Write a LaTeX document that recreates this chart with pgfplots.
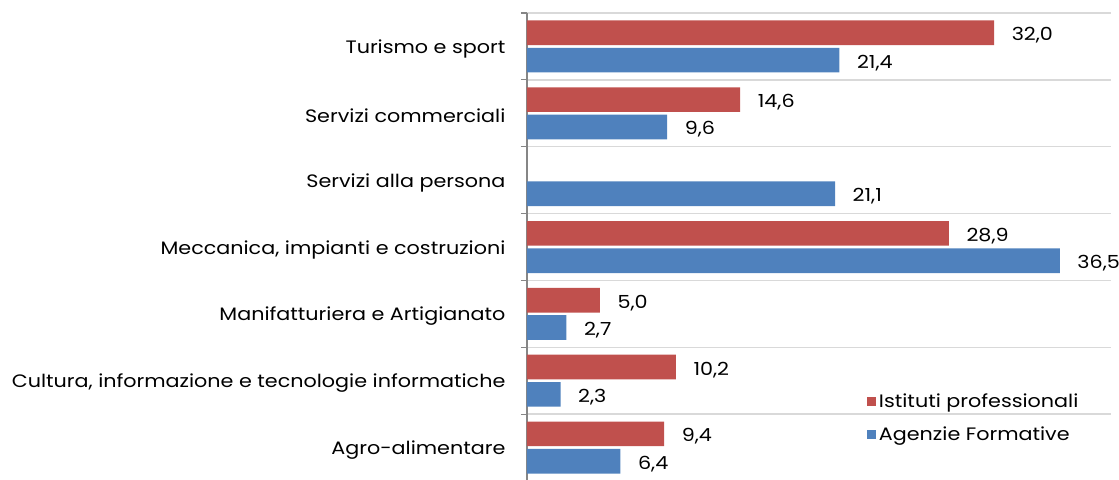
\documentclass[border=0pt]{standalone}
\usepackage{fontspec}
\setmainfont{Poppins}[FakeStretch=1.15]
\usepackage{pgfplots}
\pgfplotsset{compat=1.18}
\definecolor{ipred}{HTML}{C0504D}
\definecolor{afblue}{HTML}{4F81BD}
\definecolor{gridgray}{HTML}{D9D9D9}
\definecolor{axgray}{HTML}{868686}
\newcommand{\chartfont}{\fontsize{13.5}{16}\selectfont}
\begin{document}
\begin{tikzpicture}
\begin{axis}[
    at={(0,0)}, anchor=south west,
    scale only axis,
    width=438pt, height=351pt,
    xbar, bar width=18.5pt,
    xmin=0, xmax=40,
    ymin=-0.5, ymax=6.5, y dir=reverse,
    hide x axis,
    axis y line*=left,
    y axis line style={axgray, line width=0.8pt},
    ytick={0,...,6},
    yticklabels={Turismo e sport, Servizi commerciali, Servizi alla persona,
        {Meccanica, impianti e costruzioni}, Manifatturiera e Artigianato,
        {Cultura, informazione e tecnologie informatiche}, Agro-alimentare},
    major tick length=0pt,
    minor ytick={-0.5,0.5,...,6.5},
    minor tick length=4.5pt,
    tick align=outside,
    minor tick style={axgray, line width=0.8pt},
    yminorgrids,
    minor grid style={gridgray, line width=1pt},
    yticklabel style={font=\chartfont, inner sep=0pt, xshift=-16pt, yshift=-2pt},
    point meta=x,
    nodes near coords={\pgfmathprintnumber[fixed, fixed zerofill, precision=1, use comma, assume math mode=true]{\pgfplotspointmeta}},
    every node near coord/.append style={anchor=west, inner sep=0pt, xshift=13pt,
        yshift=-2pt, font=\chartfont, text=black},
    legend style={at={(0.581,0.195)}, anchor=north west, draw=none, fill=none,
        font=\chartfont, row sep=8pt, inner sep=0pt, nodes={inner sep=2.5pt}},
    legend image code/.code={\fill[#1] (0pt,-3.4pt) rectangle (6.8pt,3.4pt);},
    legend cell align=left,
]
    \addplot[fill=ipred, draw=none, bar shift=10.25pt] coordinates {
        (32.0,0) (14.6,1) (28.9,3) (5.0,4) (10.2,5) (9.4,6)
    };
    \addlegendentry{Istituti professionali}
    \addplot[fill=afblue, draw=none, bar shift=-10.25pt] coordinates {
        (21.4,0) (9.6,1) (21.1,2) (36.5,3) (2.7,4) (2.3,5) (6.4,6)
    };
    \addlegendentry{Agenzie Formative}
\end{axis}
\pgfresetboundingbox
\path[use as bounding box] (-395.25pt,1.5pt) rectangle (444pt,360.75pt);
\end{tikzpicture}
\end{document}
